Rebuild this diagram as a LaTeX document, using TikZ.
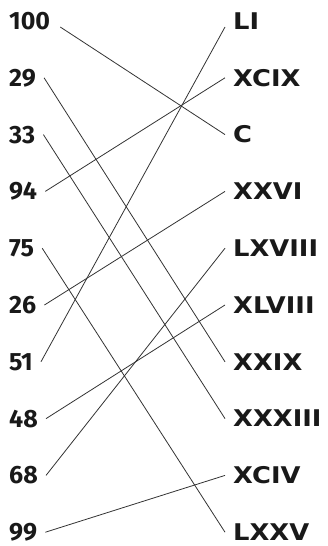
\documentclass[tikz,border=0pt]{standalone}
\usepackage{fontspec}
\setmainfont{Fira Sans}
\newfontfamily\romfont[FakeStretch=1.12]{DejaVu Sans}
\begin{document}
\begin{tikzpicture}[x=1pt,y=-1pt,
  lab/.style={inner xsep=0pt, inner ysep=0pt, text=black!90, anchor=west},
  lft/.style={lab, font=\bfseries\fontsize{25}{25}\selectfont},
  rgt/.style={lab, font=\romfont\bfseries\fontsize{23}{23}\selectfont},
  link/.style={draw=black!80, line width=0.8pt}]
\useasboundingbox (0,0) rectangle (327,546);
\foreach \t/\n [count=\i from 0] in {100/a0,29/a1,33/a2,94/a3,75/a4,26/a5,51/a6,48/a7,68/a8,99/a9}
  \node[lft] (\n) at (9,21+56.8*\i) {\t};
\foreach \t/\n [count=\i from 0] in {LI/b0,XCIX/b1,C/b2,XXVI/b3,LXVIII/b4,XLVIII/b5,XXIX/b6,XXXIII/b7,XCIV/b8,LXXV/b9}
  \node[rgt] (\n) at (233,21+56.8*\i) {\t};
\draw[link] ([xshift=10pt,yshift=-6pt]a0.east) -- ([xshift=-8pt]b2.west);
\draw[link] ([xshift=8pt]a1.east) -- ([xshift=-8pt]b6.west);
\draw[link] ([xshift=8pt]a2.east) -- ([xshift=-8pt]b7.west);
\draw[link] ([xshift=8pt]a3.east) -- ([xshift=-8pt]b1.west);
\draw[link] ([xshift=8pt]a4.east) -- ([xshift=-8pt]b9.west);
\draw[link] ([xshift=8pt]a5.east) -- ([xshift=-8pt]b3.west);
\draw[link] ([xshift=8pt]a6.east) -- ([xshift=-8pt,yshift=-6pt]b0.west);
\draw[link] ([xshift=8pt]a7.east) -- ([xshift=-8pt]b5.west);
\draw[link] ([xshift=8pt]a8.east) -- ([xshift=-8pt]b4.west);
\draw[link] ([xshift=8pt]a9.east) -- ([xshift=-8pt]b8.west);
\end{tikzpicture}
\end{document}
